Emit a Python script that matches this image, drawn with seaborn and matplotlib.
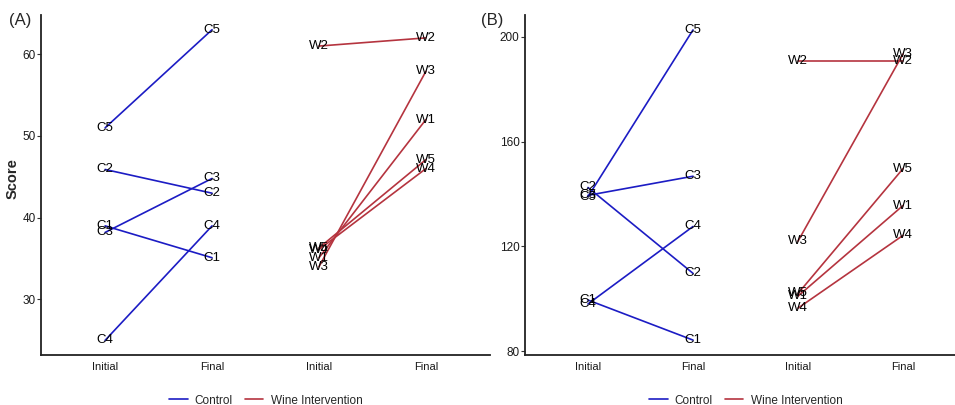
import matplotlib
matplotlib.use("Agg")
import matplotlib.pyplot as plt
import seaborn as sns
import pandas as pd
import numpy as np

# ---------------- data ----------------
time_labels = ["Initial", "Final", "Initial", "Final"]
control_ids = ["C1", "C2", "C3", "C4", "C5"]
wine_ids = ["W1", "W2", "W3", "W4", "W5"]

# Panel A
a_control_initial = [39.0, 45.9, 38.2, 25.0, 51.0]
a_control_final = [35.1, 43.0, 44.8, 39.0, 63.0]
a_wine_initial = [35.1, 61.0, 34.0, 36.1, 36.3]
a_wine_final = [52.0, 62.0, 57.9, 46.0, 47.1]

# Panel B
b_control_initial = [99.5, 142.5, 139.5, 98.0, 139.0]
b_control_final = [84.2, 109.7, 146.8, 127.6, 202.7]
b_wine_initial = [101.0, 191.0, 122.0, 96.4, 102.0]
b_wine_final = [135.6, 191.0, 193.5, 124.2, 149.7]

group_names = ["Control", "Wine Intervention"]
palette = {"Control": "#1c1cc4", "Wine Intervention": "#b5343f"}


def make_df(ci, cf, wi, wf):
    rows = []
    for i, name in enumerate(control_ids):
        rows.append((name, group_names[0], 0, ci[i]))
        rows.append((name, group_names[0], 1, cf[i]))
    for i, name in enumerate(wine_ids):
        rows.append((name, group_names[1], 2, wi[i]))
        rows.append((name, group_names[1], 3, wf[i]))
    return pd.DataFrame(rows, columns=["id", "group", "pos", "score"])


sns.set_theme(style="white")
plt.rcParams["font.family"] = ["Liberation Sans", "DejaVu Sans"]

fig = plt.figure(figsize=(9.55, 4.05), dpi=100)
W, H = 955.0, 405.0


def add_axes(left, right, top, bottom):
    return fig.add_axes([left / W, 1 - bottom / H, (right - left) / W, (bottom - top) / H])


axA = add_axes(41, 490, 15, 355)
axB = add_axes(525, 966, 15, 355)

panels = [
    (axA, make_df(a_control_initial, a_control_final, a_wine_initial, a_wine_final),
     (23.2, 64.8), [30, 40, 50, 60]),
    (axB, make_df(b_control_initial, b_control_final, b_wine_initial, b_wine_final),
     (78.5, 208.4), [80, 120, 160, 200]),
]

for ax, df, ylim, yticks in panels:
    sns.lineplot(data=df, x="pos", y="score", hue="group", units="id",
                 estimator=None, palette=palette, linewidth=1.2, ax=ax,
                 hue_order=group_names)
    for _, r in df.iterrows():
        ax.text(r["pos"], r["score"], r["id"], ha="center", va="center",
                fontsize=9.5, color="black", zorder=5)
    ax.set_xlim(-0.6, 3.6)
    ax.set_ylim(*ylim)
    ax.set_yticks(yticks)
    ax.set_xticks(range(4))
    ax.set_xticklabels(time_labels)
    ax.set_xlabel("")
    ax.set_ylabel("")
    for s in ["top", "right"]:
        ax.spines[s].set_visible(False)
    for s in ["left", "bottom"]:
        ax.spines[s].set_color("#222222")
        ax.spines[s].set_linewidth(1.3)
    ax.tick_params(axis="y", length=3, width=0.8, color="#333333",
                   labelsize=8.5, pad=1, left=True, labelcolor="#1a1a1a")
    ax.tick_params(axis="x", length=0, labelsize=8, pad=5, labelcolor="#1a1a1a")
    sns.move_legend(ax, "upper center", bbox_to_anchor=(0.5, -0.085), ncol=2,
                    frameon=False, title=None, fontsize=8.5, handlelength=1.6,
                    columnspacing=1.0, handletextpad=0.6)

axA.set_ylabel("Score", fontsize=10.5, fontweight="bold")
axA.yaxis.set_label_coords(-0.047, 0.52)
fig.text(9 / W, 1 - 20 / H, "(A)", fontsize=12, va="center", ha="left")
fig.text(481 / W, 1 - 20 / H, "(B)", fontsize=12, va="center", ha="left")

fig.savefig("out.png", dpi=100)
